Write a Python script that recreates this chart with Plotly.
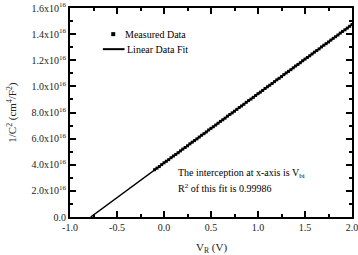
import plotly.graph_objects as go

# Measured data (V_R in volts, 1/C^2 in units of 1e15 cm^4/F^2)
meas_v = [-0.100, -0.075, -0.050, -0.025, 0.000, 0.025, 0.050, 0.075, 0.100, 0.125,
          0.150, 0.175, 0.200, 0.225, 0.250, 0.275, 0.300, 0.325, 0.350, 0.375,
          0.400, 0.425, 0.450, 0.475, 0.500, 0.525, 0.550, 0.575, 0.600, 0.625,
          0.650, 0.675, 0.700, 0.725, 0.750, 0.775, 0.800, 0.825, 0.850, 0.875,
          0.900, 0.925, 0.950, 0.975, 1.000, 1.025, 1.050, 1.075, 1.100, 1.125,
          1.150, 1.175, 1.200, 1.225, 1.250, 1.275, 1.300, 1.325, 1.350, 1.375,
          1.400, 1.425, 1.450, 1.475, 1.500, 1.525, 1.550, 1.575, 1.600, 1.625,
          1.650, 1.675, 1.700, 1.725, 1.750, 1.775, 1.800, 1.825, 1.850, 1.875,
          1.900, 1.925, 1.950, 1.975, 2.000]
meas_c = [3.62, 3.74, 3.86, 4.01, 4.15, 4.27, 4.39, 4.54, 4.67, 4.79,
          4.92, 5.06, 5.20, 5.32, 5.45, 5.60, 5.73, 5.85, 5.98, 6.12,
          6.26, 6.38, 6.51, 6.66, 6.79, 6.91, 7.04, 7.18, 7.32, 7.44,
          7.57, 7.72, 7.85, 7.97, 8.10, 8.24, 8.38, 8.50, 8.63, 8.78,
          8.91, 9.03, 9.16, 9.30, 9.44, 9.56, 9.69, 9.84, 9.97, 10.09,
          10.22, 10.36, 10.50, 10.62, 10.75, 10.90, 11.03, 11.15, 11.28, 11.42,
          11.56, 11.68, 11.81, 11.96, 12.09, 12.21, 12.34, 12.48, 12.62, 12.74,
          12.87, 13.02, 13.15, 13.27, 13.40, 13.54, 13.68, 13.80, 13.93, 14.08,
          14.21, 14.33, 14.46, 14.60, 14.74]

# Linear fit endpoints
fit_v = [-0.78, 2.00]
fit_c = [0.0, 14.73]

scale = 1e15
y_tickvals = [0, 2, 4, 6, 8, 10, 12, 14, 16]
y_minorvals = [1, 3, 5, 7, 9, 11, 13, 15]
y_ticktext = ["0.0", "2.0x10<sup>16</sup>", "4.0x10<sup>16</sup>", "6.0x10<sup>16</sup>",
              "8.0x10<sup>16</sup>", "1.0x10<sup>16</sup>", "1.2x10<sup>16</sup>",
              "1.4x10<sup>16</sup>", "1.6x10<sup>16</sup>"]
x_tickvals = [-1.0, -0.5, 0.0, 0.5, 1.0, 1.5, 2.0]
x_minorvals = [-0.75, -0.25, 0.25, 0.75, 1.25, 1.75]
x_ticktext = ["-1.0", "-0.5", "0.0", "0.5", "1.0", "1.5", "2.0"]

FONT = "Liberation Serif"

fig = go.Figure()
fig.add_trace(go.Scatter(x=fit_v, y=[c * scale for c in fit_c], mode="lines",
                         line=dict(color="black", width=1.5), name="Linear Data Fit",
                         showlegend=False))
fig.add_trace(go.Scatter(x=meas_v, y=[c * scale for c in meas_c], mode="markers",
                         marker=dict(symbol="square", size=3, color="black"),
                         name="Measured Data", showlegend=False))

# Legend drawn manually
fig.add_trace(go.Scatter(x=[-0.54], y=[14.0 * scale], mode="markers",
                         marker=dict(symbol="square", size=4, color="black"),
                         showlegend=False, hoverinfo="skip"))
fig.add_trace(go.Scatter(x=[-0.65, -0.42], y=[12.85 * scale, 12.85 * scale], mode="lines",
                         line=dict(color="black", width=2),
                         showlegend=False, hoverinfo="skip"))
fig.add_annotation(x=-0.44, y=14.0 * scale, text="Measured Data", showarrow=False,
                   xanchor="left", yanchor="middle", font=dict(family=FONT, size=10, color="black"))
fig.add_annotation(x=-0.42, y=12.85 * scale, text="Linear Data Fit", showarrow=False,
                   xanchor="left", yanchor="middle", font=dict(family=FONT, size=10, color="black"))

fig.add_annotation(x=0.13, y=3.35 * scale, text="The interception at x-axis is V<sub>bi</sub>",
                   showarrow=False, xanchor="left", yanchor="middle",
                   font=dict(family=FONT, size=10, color="black"))
fig.add_annotation(x=0.13, y=2.2 * scale, text="R<sup>2</sup> of this fit is 0.99986",
                   showarrow=False, xanchor="left", yanchor="middle",
                   font=dict(family=FONT, size=10, color="black"))

# Axis titles as paper annotations (fixed positions)
fig.add_annotation(xref="paper", yref="paper", x=0.5, y=-0.15, text="V<sub>R</sub> (V)",
                   showarrow=False, xanchor="center", yanchor="middle",
                   font=dict(family=FONT, size=11, color="#222"))
fig.add_annotation(xref="paper", yref="paper", x=-0.205, y=0.5,
                   text="1/C<sup>2</sup> (cm<sup>4</sup>/F<sup>2</sup>)", textangle=-90,
                   showarrow=False, xanchor="center", yanchor="middle",
                   font=dict(family=FONT, size=11, color="#222"))

tickfont = dict(family=FONT, size=10, color="#222")
axis_common = dict(showgrid=False, zeroline=False, showline=True, linecolor="black",
                   linewidth=2, mirror="ticks", ticks="inside", ticklen=6, tickwidth=2,
                   tickcolor="black", tickfont=tickfont, automargin=False,
                   ticklabeloverflow="allow")

fig.update_xaxes(range=[-1.0, 2.0], tickvals=x_tickvals, ticktext=x_ticktext,
                 minor=dict(ticks="inside", tickvals=x_minorvals,
                            ticklen=3, tickcolor="black", tickwidth=2),
                 **axis_common)
fig.update_yaxes(range=[0, 16 * scale], tickvals=[v * scale for v in y_tickvals],
                 ticktext=y_ticktext,
                 minor=dict(ticks="inside", tickvals=[v * scale for v in y_minorvals],
                            ticklen=3, tickcolor="black", tickwidth=2),
                 **axis_common)

fig.update_layout(width=358, height=255, margin=dict(l=70, r=6, t=8, b=38),
                  plot_bgcolor="white", paper_bgcolor="white", showlegend=False)

fig.write_html("out.html")
